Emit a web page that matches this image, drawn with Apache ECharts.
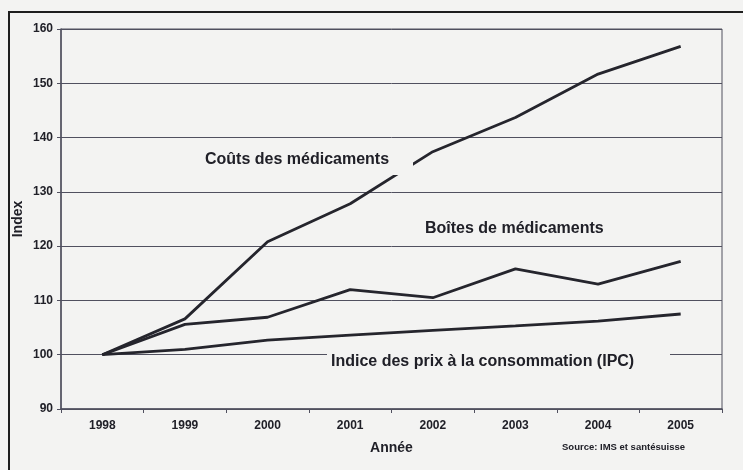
<!DOCTYPE html>
<html>
<head>
<meta charset="utf-8">
<script src="https://cdn.jsdelivr.net/npm/echarts@6/dist/echarts.min.js"></script>
<style>
  html, body { margin: 0; padding: 0; background: #f3f3f2; }
  #chart { width: 743px; height: 470px; }
</style>
</head>
<body>
<div id="chart"></div>
<script>
// Years on the category axis
const years = ['1998', '1999', '2000', '2001', '2002', '2003', '2004', '2005'];

// Index values, base 1998 = 100
const coutsMedicaments = [100, 106.6, 120.8, 127.8, 137.4, 143.7, 151.7, 156.8];
const boitesMedicaments = [100, 105.6, 106.9, 112.0, 110.5, 115.8, 113.0, 117.2];
const indicePrix = [100, 101.0, 102.7, 103.6, 104.5, 105.3, 106.2, 107.5];

// Value axis ticks
const yTicks = { min: 90, max: 160, step: 10 };

const bg = '#f3f3f2';
const textColor = '#202028';
const lineColor = '#25252d';
const gridColor = '#50505f';
const font = '"Liberation Sans", Arial, sans-serif';

const chart = echarts.init(document.getElementById('chart'));

function lineSeries(name, data) {
  return {
    name: name,
    type: 'line',
    data: data,
    symbol: 'none',
    lineStyle: { color: lineColor, width: 2.8 },
    z: 3
  };
}

// A series caption: a plain box in the page colour with bold text on it
function caption(text, box, textLeft, textMiddle) {
  const items = [];
  if (box) {
    items.push({
      type: 'rect',
      z: 40,
      shape: box,
      style: { fill: bg }
    });
  }
  items.push({
    type: 'text',
    z: 50,
    x: textLeft,
    y: textMiddle,
    style: {
      text: text,
      fill: textColor,
      font: 'bold 16px ' + font,
      verticalAlign: 'middle'
    }
  });
  return items;
}

chart.setOption({
  backgroundColor: bg,
  animation: false,
  grid: {
    left: 61, right: 21, top: 29, bottom: 61,
    show: true,
    borderColor: gridColor,
    borderWidth: 1,
    backgroundColor: 'transparent'
  },
  xAxis: {
    type: 'category',
    data: years,
    boundaryGap: true,
    name: 'Année',
    nameLocation: 'middle',
    nameGap: 32,
    nameTextStyle: { color: textColor, fontFamily: font, fontWeight: 'bold', fontSize: 14 },
    axisLine: { lineStyle: { color: gridColor, width: 1.5 } },
    axisTick: { show: true, alignWithLabel: false, length: 4, lineStyle: { color: gridColor } },
    axisLabel: { color: textColor, fontFamily: font, fontWeight: 'bold', fontSize: 12, margin: 11 }
  },
  yAxis: {
    type: 'value',
    min: yTicks.min,
    max: yTicks.max,
    interval: yTicks.step,
    name: 'Index',
    nameLocation: 'middle',
    nameGap: 36,
    nameMoveOverlap: false,
    nameRotate: 90,
    nameTextStyle: { color: textColor, fontFamily: font, fontWeight: 'bold', fontSize: 14 },
    axisLine: { show: true, lineStyle: { color: gridColor, width: 1.5 } },
    axisTick: { show: true, length: 4, lineStyle: { color: gridColor } },
    axisLabel: { color: textColor, fontFamily: font, fontWeight: 'bold', fontSize: 12, margin: 8 },
    splitLine: { lineStyle: { color: gridColor, width: 1 } }
  },
  series: [
    lineSeries('Coûts des médicaments', coutsMedicaments),
    lineSeries('Boîtes de médicaments', boitesMedicaments),
    lineSeries('Indice des prix à la consommation (IPC)', indicePrix)
  ],
  graphic: [
    {
      type: 'rect',
      z: 60,
      shape: { x: 9, y: 12, width: 760, height: 480 },
      style: { fill: 'none', stroke: '#1e1e1e', lineWidth: 2 }
    },
    ...caption('Coûts des médicaments', { x: 198, y: 150, width: 215, height: 25 }, 205, 160),
    ...caption('Boîtes de médicaments', null, 425, 229),
    ...caption('Indice des prix à la consommation (IPC)', { x: 327, y: 352, width: 343, height: 20 }, 331, 362),
    {
      type: 'text',
      z: 50,
      x: 562,
      y: 447,
      style: {
        text: 'Source: IMS et santésuisse',
        fill: textColor,
        font: 'bold 9.5px ' + font,
        verticalAlign: 'middle'
      }
    }
  ]
});
</script>
</body>
</html>
